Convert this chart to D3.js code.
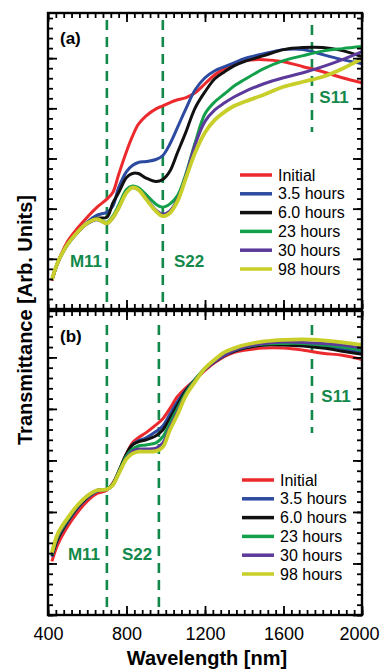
<!DOCTYPE html>
<html>
<head>
<meta charset="utf-8">
<script src="https://cdn.jsdelivr.net/npm/d3@7"></script>
<style>
  body { margin: 0; background: #fff; }
  svg { display: block; font-family: Arial, "Liberation Sans", sans-serif; }
</style>
</head>
<body>
<div id="chart"></div>
<script>
// -----------------------------
// Data (arbitrary units)
// -----------------------------
const wavelengths = [420, 450, 500, 550, 600, 650, 700, 730, 760, 800, 830, 860, 900, 950, 985,
  1020, 1060, 1100, 1150, 1200, 1250, 1300, 1350, 1400, 1500, 1600, 1700, 1800, 1900, 2000];

const seriesNames = ["Initial", "3.5 hours", "6.0 hours", "23 hours", "30 hours", "98 hours"];
const seriesColors = ["#ec2a2e", "#2c4a9f", "#111111", "#13a04b", "#5b3a9b", "#c8cf2b"];

// panel (a)
const aInitial = [0.56,0.93,1.35,1.61,1.83,2.03,2.19,2.32,2.68,3.14,3.44,3.68,3.85,3.99,4.05,4.11,4.17,4.21,4.31,4.49,4.67,4.79,4.89,4.95,4.97,4.93,4.83,4.73,4.61,4.51];
const a3h5 = [0.58,0.93,1.29,1.53,1.73,1.87,1.93,2.05,2.42,2.74,2.86,2.92,2.94,2.98,3.06,3.28,3.62,3.97,4.37,4.61,4.75,4.83,4.91,4.99,5.09,5.17,5.17,5.07,4.97,4.89];
const a6h0 = [0.58,0.93,1.29,1.53,1.71,1.81,1.83,2.11,2.32,2.62,2.70,2.70,2.61,2.54,2.58,2.74,3.12,3.50,4.01,4.33,4.59,4.73,4.85,4.93,5.05,5.17,5.21,5.21,5.15,5.03];
const a23h = [0.58,0.93,1.29,1.53,1.71,1.79,1.73,1.85,2.07,2.38,2.45,2.42,2.28,2.09,2.03,2.09,2.26,2.66,3.32,3.89,4.13,4.29,4.45,4.57,4.79,4.95,5.05,5.14,5.19,5.23];
const a30h = [0.57,0.92,1.28,1.52,1.70,1.78,1.70,1.81,2.01,2.32,2.42,2.38,2.21,1.97,1.89,1.95,2.19,2.62,3.28,3.74,3.97,4.11,4.23,4.33,4.49,4.61,4.71,4.83,4.97,5.13];
const a98h = [0.58,0.93,1.29,1.53,1.71,1.79,1.71,1.82,2.01,2.32,2.42,2.38,2.19,1.95,1.85,1.91,2.15,2.58,3.12,3.52,3.77,3.93,4.05,4.13,4.27,4.43,4.53,4.63,4.79,4.99];

// panel (b)
const bInitial = [1.04,1.37,1.72,1.99,2.21,2.36,2.42,2.56,2.77,3.13,3.34,3.44,3.54,3.69,3.81,4.00,4.24,4.40,4.57,4.75,4.90,5.02,5.10,5.14,5.18,5.18,5.14,5.08,5.04,4.96];
const b3h5 = [1.13,1.47,1.80,2.07,2.27,2.40,2.44,2.54,2.77,3.11,3.30,3.38,3.44,3.56,3.67,3.89,4.14,4.36,4.57,4.77,4.92,5.04,5.12,5.18,5.24,5.26,5.24,5.20,5.16,5.10];
const b6h0 = [1.15,1.48,1.82,2.09,2.29,2.42,2.44,2.54,2.79,3.13,3.30,3.36,3.40,3.48,3.59,3.81,4.08,4.34,4.57,4.77,4.92,5.04,5.12,5.18,5.24,5.24,5.22,5.18,5.12,5.06];
const b23h = [1.17,1.52,1.84,2.11,2.31,2.42,2.44,2.54,2.77,3.09,3.22,3.28,3.30,3.34,3.46,3.71,4.01,4.30,4.57,4.79,4.94,5.06,5.14,5.20,5.26,5.27,5.27,5.24,5.20,5.14];
const b30h = [1.19,1.54,1.86,2.11,2.31,2.42,2.44,2.52,2.75,3.05,3.18,3.22,3.22,3.24,3.34,3.63,3.95,4.26,4.55,4.77,4.92,5.04,5.14,5.20,5.27,5.30,5.29,5.27,5.24,5.18];
const b98h = [1.21,1.58,1.88,2.13,2.31,2.42,2.44,2.52,2.74,3.03,3.13,3.17,3.17,3.18,3.26,3.58,3.89,4.24,4.53,4.79,4.96,5.10,5.18,5.24,5.31,5.34,5.35,5.33,5.29,5.24];

// transition markers (nm)
const aMarkers = [700, 985, 1745];
const bMarkers = [700, 965, 1745];
const markerNames = ["M11", "S22", "S11"];

const xTickLabels = [400, 800, 1200, 1600, 2000];

// -----------------------------
// Layout
// -----------------------------
const width = 381, height = 671;
const left = 48, right = 362;
const panels = [
  { id: "a", top: 13, bottom: 309, values: [aInitial, a3h5, a6h0, a23h, a30h, a98h], markers: aMarkers },
  { id: "b", top: 311, bottom: 615, values: [bInitial, b3h5, b6h0, b23h, b30h, b98h], markers: bMarkers }
];

const svg = d3.select("#chart").append("svg")
  .attr("width", width)
  .attr("height", height);

const x = d3.scaleLinear().domain([400, 2000]).range([left, right]);
const green = "#12894a";

// label positions per panel (pixels)
const markerLayout = {
  a: { line: [[20, 305], [20, 305], [25, 132]], text: [[86, 267], [189, 267], [334, 103]] },
  b: { line: [[325, 608], [325, 608], [325, 433]], text: [[84, 560], [137, 560], [336, 402]] }
};
const legendLayout = { a: { x: 240, y: 175 }, b: { x: 242, y: 480 } };

panels.forEach((p) => {
  const y = d3.scaleLinear().domain([0, 5.9]).range([p.bottom, p.top]);
  const g = svg.append("g");

  // dashed marker lines
  p.markers.forEach((m, i) => {
    const ml = markerLayout[p.id];
    g.append("line")
      .attr("x1", x(m)).attr("x2", x(m))
      .attr("y1", ml.line[i][0]).attr("y2", ml.line[i][1])
      .attr("stroke", green)
      .attr("stroke-width", 2.6)
      .attr("stroke-dasharray", "10,7");
    g.append("text")
      .attr("x", ml.text[i][0]).attr("y", ml.text[i][1])
      .attr("text-anchor", "middle")
      .attr("fill", green)
      .style("font-size", "17px")
      .style("font-weight", "bold")
      .text(markerNames[i]);
  });

  // curves
  const line = d3.line()
    .x((d) => x(d[0]))
    .y((d) => y(d[1]))
    .curve(d3.curveCatmullRom.alpha(0.5));

  p.values.forEach((vals, i) => {
    const pts = wavelengths.map((w, k) => [w, vals[k]]);
    g.append("path")
      .datum(pts)
      .attr("fill", "none")
      .attr("stroke", seriesColors[i])
      .attr("stroke-width", i === 5 ? 3.8 : 3)
      .attr("stroke-linejoin", "round")
      .attr("d", line);
  });

  // ticks on all four sides, pointing inward
  const xMinor = d3.range(400, 2001, 40);
  const xMajor = d3.range(400, 2001, 400);
  const yMinor = d3.range(0, 5.91, 0.2);
  const yMajor = d3.range(0, 5.91, 1);

  const addAxis = (axis, tx, ty) => {
    const ax = g.append("g")
      .attr("transform", `translate(${tx},${ty})`)
      .call(axis);
    ax.select(".domain").remove();
    ax.selectAll("line").attr("stroke", "#000").attr("stroke-width", 1.8);
    return ax;
  };

  addAxis(d3.axisBottom(x).tickValues(xMinor).tickSize(-5).tickFormat(""), 0, p.bottom);
  addAxis(d3.axisTop(x).tickValues(xMinor).tickSize(-5).tickFormat(""), 0, p.top);
  addAxis(d3.axisLeft(y).tickValues(yMinor).tickSize(-5).tickFormat(""), left, 0);
  addAxis(d3.axisRight(y).tickValues(yMinor).tickSize(-5).tickFormat(""), right, 0);
  addAxis(d3.axisTop(x).tickValues(xMajor).tickSize(-9).tickFormat(""), 0, p.top);
  addAxis(d3.axisLeft(y).tickValues(yMajor).tickSize(-9).tickFormat(""), left, 0);
  addAxis(d3.axisRight(y).tickValues(yMajor).tickSize(-9).tickFormat(""), right, 0);

  const bx = addAxis(
    d3.axisBottom(x).tickValues(p.id === "b" ? xTickLabels : xMajor).tickSize(-9)
      .tickPadding(12).tickFormat(p.id === "b" ? d3.format("d") : ""),
    0, p.bottom);
  bx.selectAll("text")
    .attr("fill", "#000")
    .attr("dx", (d) => (d === 2000 ? -3 : 0))
    .style("font-size", "18px")
    .style("font-family", "Arial, 'Liberation Sans', sans-serif");

  // frame
  g.append("rect")
    .attr("x", left).attr("y", p.top)
    .attr("width", right - left).attr("height", p.bottom - p.top)
    .attr("fill", "none")
    .attr("stroke", "#000")
    .attr("stroke-width", 2.4);

  // panel label
  g.append("text")
    .attr("x", 60).attr("y", p.top + 31)
    .style("font-size", "17px")
    .style("font-weight", "bold")
    .text(`(${p.id})`);

  // legend
  const lg = legendLayout[p.id];
  seriesNames.forEach((name, i) => {
    const yy = lg.y + i * 18.8;
    g.append("line")
      .attr("x1", lg.x).attr("x2", lg.x + 32)
      .attr("y1", yy).attr("y2", yy)
      .attr("stroke", seriesColors[i])
      .attr("stroke-width", 3.5);
    g.append("text")
      .attr("x", lg.x + 38).attr("y", yy)
      .attr("dy", "0.35em")
      .style("font-size", "16px")
      .text(name);
  });
});

// axis titles
svg.append("text")
  .attr("x", 207).attr("y", 665)
  .attr("text-anchor", "middle")
  .style("font-size", "20px")
  .style("font-weight", "bold")
  .text("Wavelength [nm]");

svg.append("text")
  .attr("transform", "translate(32,320) rotate(-90)")
  .attr("text-anchor", "middle")
  .style("font-size", "20px")
  .style("font-weight", "bold")
  .text("Transmittance [Arb. Units]");
</script>
</body>
</html>
